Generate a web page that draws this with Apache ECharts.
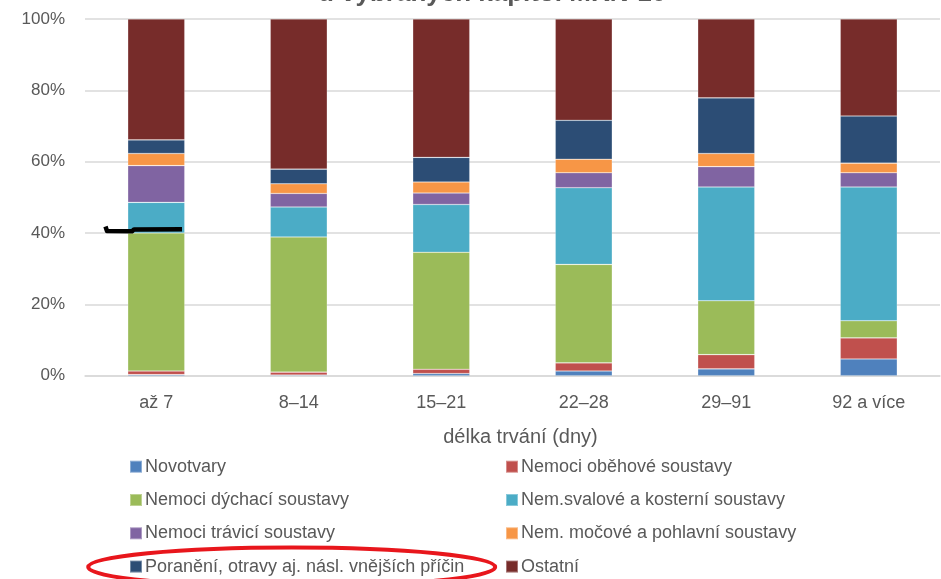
<!DOCTYPE html>
<html>
<head>
<meta charset="utf-8">
<script src="https://cdn.jsdelivr.net/npm/echarts@6/dist/echarts.min.js"></script>
<style>
  html, body { margin: 0; padding: 0; background: #fff; }
  #chart { width: 941px; height: 579px; }
</style>
</head>
<body>
<div id="chart"></div>
<script>
// Share of sick-leave cases by ICD-10 chapter, per duration band (%)
const categories = ['až 7', '8–14', '15–21', '22–28', '29–91', '92 a více'];

const novotvary = [0.3, 0.2, 0.6, 1.3, 1.9, 4.7];
const obehove   = [1.0, 0.8, 1.2, 2.3, 4.0, 5.9];
const dychaci   = [38.7, 37.9, 32.8, 27.6, 15.1, 4.8];
const svalove   = [8.6, 8.4, 13.4, 21.5, 31.9, 37.5];
const travici   = [10.3, 3.8, 3.2, 4.2, 5.7, 4.0];
const mocove    = [3.4, 2.7, 3.1, 3.8, 3.7, 2.7];
const poraneni  = [3.8, 4.1, 6.9, 10.9, 15.6, 13.2];
const ostatni   = [33.9, 42.1, 38.8, 28.4, 22.1, 27.2];

const seriesNames = [
  'Novotvary',
  'Nemoci oběhové soustavy',
  'Nemoci dýchací soustavy',
  'Nem.svalové a kosterní soustavy',
  'Nemoci trávicí soustavy',
  'Nem. močové a pohlavní soustavy',
  'Poranění, otravy aj. násl. vnějších příčin',
  'Ostatní'
];
const seriesValues = [novotvary, obehove, dychaci, svalove, travici, mocove, poraneni, ostatni];
const seriesColors = ['#4F81BD', '#C0504D', '#9BBB59', '#4BACC6', '#8064A2', '#F79646', '#2C4D75', '#772C2A'];

const textGrey = '#595959';
const font = 'Liberation Sans, Arial, sans-serif';

const chart = echarts.init(document.getElementById('chart'), null, { renderer: 'canvas' });

const legendCommon = {
  orient: 'vertical',
  padding: 0,
  itemWidth: 12,
  itemHeight: 12,
  itemGap: 13.3,
  icon: 'rect',
  selectedMode: false,
  textStyle: { color: textGrey, fontSize: 18, fontFamily: font, lineHeight: 20, padding: [0, 0, 0, -2] }
};

chart.setOption({
  animation: false,
  backgroundColor: '#ffffff',
  color: seriesColors,
  grid: { left: 85, right: 1, top: 19, bottom: 203.3 },
  legend: [
    Object.assign({}, legendCommon, {
      left: 129, top: 456.7,
      data: [seriesNames[0], seriesNames[2], seriesNames[4], seriesNames[6]]
    }),
    Object.assign({}, legendCommon, {
      left: 505, top: 456.7,
      data: [seriesNames[1], seriesNames[3], seriesNames[5], seriesNames[7]]
    })
  ],
  xAxis: {
    type: 'category',
    data: categories,
    axisLine: { lineStyle: { color: '#d9d9d9', width: 1.5 } },
    axisTick: { show: false },
    axisLabel: { color: textGrey, fontSize: 18, fontFamily: font, margin: 18 },
    name: 'délka trvání (dny)',
    nameLocation: 'middle',
    nameGap: 52,
    nameTextStyle: { color: textGrey, fontSize: 20, fontFamily: font, padding: [0, 0, 0, 16] }
  },
  yAxis: {
    type: 'value',
    min: 0,
    max: 100,
    interval: 20,
    axisLine: { show: false },
    axisTick: { show: false },
    axisLabel: { color: textGrey, fontSize: 17, fontFamily: font, margin: 20, formatter: '{value}%' },
    splitLine: { lineStyle: { color: '#d9d9d9', width: 1.5 } }
  },
  series: seriesNames.map((name, i) => ({
    name: name,
    type: 'bar',
    stack: 'total',
    barWidth: 57,
    data: seriesValues[i],
    itemStyle: { color: seriesColors[i], borderColor: 'rgba(255,255,255,0.35)', borderWidth: 0.6 }
  })),
  graphic: [
    {
      // second title line, clipped by the top edge
      type: 'text',
      x: 492, y: 7,
      style: {
        text: 'u vybraných kapitol MKN-10',
        fill: textGrey,
        font: 'bold 26px Liberation Sans, Arial, sans-serif',
        align: 'center',
        verticalAlign: 'bottom'
      },
      z: 10
    },
    {
      // hand-drawn marker at the 40 % level of the first bar
      type: 'polyline',
      shape: { points: [[105.5, 226.5], [107, 231], [132, 231.3], [134, 229.4], [182, 229.2]] },
      style: { stroke: '#000', lineWidth: 4.5, fill: null, lineJoin: 'round', lineCap: 'butt' },
      z: 20
    },
    {
      // red ring around the injuries legend entry
      type: 'ellipse',
      shape: { cx: 291.7, cy: 567, rx: 203.5, ry: 19.5 },
      style: { stroke: '#e8161c', lineWidth: 4, fill: null },
      z: 20
    }
  ]
});
</script>
</body>
</html>
